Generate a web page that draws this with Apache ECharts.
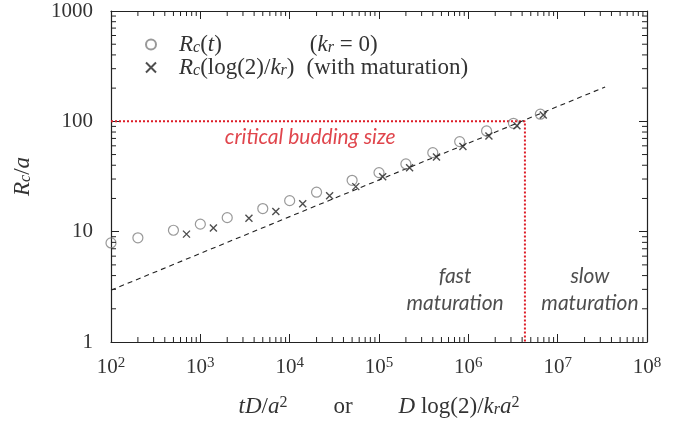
<!DOCTYPE html>
<html>
<head>
<meta charset="utf-8">
<script src="https://cdn.jsdelivr.net/npm/echarts@6/dist/echarts.min.js"></script>
<style>
  html, body { margin: 0; padding: 0; background: #fff; }
  #chart { width: 685px; height: 422px; }
</style>
</head>
<body>
<div id="chart"></div>
<script>
// values
var circleX = [100, 200, 500, 1000, 2000, 5000, 1e4, 2e4, 5e4, 1e5, 2e5, 4e5, 8e5, 1.6e6, 3.2e6, 6.4e6];
var circleY = [7.9, 8.8, 10.3, 11.7, 13.4, 16.2, 19.1, 22.8, 29.2, 34.3, 41.1, 52, 65.5, 81.8, 96, 116];
var crossX = [700, 1400, 3500, 7000, 1.4e4, 2.8e4, 5.5e4, 1.1e5, 2.2e5, 4.4e5, 8.7e5, 1.7e6, 3.5e6, 6.9e6];
var crossY = [9.5, 10.8, 13.2, 15.2, 17.9, 21.2, 25.6, 31.5, 38, 47.5, 59, 73.8, 91.4, 114];
var fitX = [100, 3.4e7];
var fitY = [2.95, 205];
var criticalSize = 100;
var criticalTime = 4.3e6;

var xRange = [1e2, 1e8];
var yRange = [1, 1000];
var xDecades = [1e2, 1e3, 1e4, 1e5, 1e6, 1e7];
var yDecades = [1, 10, 100];
var minorMults = [2, 3, 4, 5, 6, 7, 8, 9];

var serif = '"Liberation Serif", "DejaVu Serif", serif';
var sans = 'Lato, "Open Sans", sans-serif';
var ink = '#222';

function zip(xs, ys) {
  return xs.map(function (x, i) { return [x, ys[i]]; });
}

function minorValues(decades) {
  var out = [];
  decades.forEach(function (d) {
    minorMults.forEach(function (m) { out.push(m * d); });
  });
  return out;
}

// minor ticks of the log frame, drawn as thin rect symbols sitting on each side
function minorTickSeries(side) {
  var vals = (side === 'bottom' || side === 'top') ? minorValues(xDecades) : minorValues(yDecades);
  var data = vals.map(function (v) {
    if (side === 'bottom') return [v, yRange[0]];
    if (side === 'top') return [v, yRange[1]];
    if (side === 'left') return [xRange[0], v];
    return [xRange[1], v];
  });
  var vertical = side === 'bottom' || side === 'top';
  var offset = { bottom: [0, -2.5], top: [0, 2.5], left: [2.5, 0], right: [-2.5, 0] }[side];
  return {
    type: 'scatter',
    silent: true,
    data: data,
    symbol: 'rect',
    symbolSize: vertical ? [1, 5] : [5, 1],
    symbolOffset: offset,
    itemStyle: { color: ink, opacity: 1 },
    z: 8
  };
}

var mathRich = {
  i: { fontFamily: serif, fontStyle: 'italic', fontSize: 23, color: '#333' },
  n: { fontFamily: serif, fontSize: 23, color: '#333' },
  sub: { fontFamily: serif, fontStyle: 'italic', fontSize: 16, color: '#333', verticalAlign: 'bottom', padding: [7, 0, 0, 0] },
  sup: { fontFamily: serif, fontSize: 16, color: '#333', verticalAlign: 'top', padding: [0, 0, 7, 0] },
  g1: { width: 88 },
  g2: { width: 12 },
  sp: { width: 46 }
};

var axisCommon = {
  type: 'log',
  logBase: 10,
  axisLine: { show: true, lineStyle: { color: ink, width: 1.2 } },
  axisTick: { show: true, inside: true, length: 8, lineStyle: { color: ink } },
  splitLine: { show: false },
  minorTick: { show: false }
};

var chart = echarts.init(document.getElementById('chart'));

chart.setOption({
  animation: false,
  backgroundColor: '#fff',
  grid: { left: 111, right: 38, top: 11, bottom: 80, outerBoundsMode: 'none' },
  legend: {
    left: 140,
    top: 28,
    orient: 'vertical',
    itemWidth: 10,
    itemHeight: 10,
    itemGap: 0,
    data: ['circle', 'cross'],
    textStyle: { padding: [0, 0, 0, 18], rich: mathRich, lineHeight: 22 },
    formatter: function (name) {
      if (name === 'circle') {
        return '{i|R}{sub|c}{n|(}{i|t}{n|)}{g1|}{n|(}{i|k}{sub|r}{n| = 0)}';
      }
      return '{i|R}{sub|c}{n|(log(2)/}{i|k}{sub|r}{n|)}{g2|}{n|(with maturation)}';
    }
  },
  xAxis: [
    Object.assign({}, axisCommon, {
      min: xRange[0], max: xRange[1],
      axisLabel: {
        margin: 14,
        formatter: function (v) {
          return '{b|10}{s|' + Math.round(Math.log10(v)) + '}';
        },
        rich: {
          b: { fontFamily: serif, fontSize: 21, color: '#333' },
          s: { fontFamily: serif, fontSize: 15, color: '#333', verticalAlign: 'top', padding: [0, 0, 8, 0] }
        }
      },
      name: '{i|tD}{n|/}{i|a}{sup|2}{sp|}{n|or}{sp|}{i|D}{n| log(2)/}{i|k}{sub|r}{i|a}{sup|2}',
      nameLocation: 'middle',
      nameGap: 53,
      nameTextStyle: { rich: mathRich }
    }),
    Object.assign({}, axisCommon, {
      min: xRange[0], max: xRange[1],
      position: 'top',
      axisLabel: { show: false }
    })
  ],
  yAxis: [
    Object.assign({}, axisCommon, {
      min: yRange[0], max: yRange[1],
      axisLabel: {
        margin: 18, fontFamily: serif, fontSize: 21, color: '#333',
        formatter: function (v) { return String(Math.round(v)); }
      },
      name: '{i|R}{sub|c}{n|/}{i|a}',
      nameLocation: 'middle',
      nameRotate: 90,
      nameGap: 77,
      nameTextStyle: { rich: mathRich }
    }),
    Object.assign({}, axisCommon, {
      min: yRange[0], max: yRange[1],
      position: 'right',
      axisLabel: { show: false }
    })
  ],
  series: [
    minorTickSeries('bottom'),
    minorTickSeries('top'),
    minorTickSeries('left'),
    minorTickSeries('right'),
    {
      name: 'critical',
      type: 'line',
      data: [[xRange[0], criticalSize], [criticalTime, criticalSize], [criticalTime, yRange[0]]],
      symbol: 'none',
      lineStyle: { color: '#dd1c27', width: 2, type: [2, 2] },
      z: 3
    },
    {
      name: 'fit',
      type: 'line',
      data: zip(fitX, fitY),
      symbol: 'none',
      lineStyle: { color: ink, width: 1.1, type: [5, 4] },
      z: 3
    },
    {
      name: 'circle',
      type: 'scatter',
      data: zip(circleX, circleY),
      symbol: 'circle',
      symbolSize: 10,
      itemStyle: { color: 'rgba(0,0,0,0)', borderColor: '#808080', borderWidth: 1.2 },
      z: 4
    },
    {
      name: 'cross',
      type: 'scatter',
      data: zip(crossX, crossY),
      symbol: 'path://M0,0L10,10M10,0L0,10',
      symbolSize: 7,
      itemStyle: { color: 'rgba(0,0,0,0)', borderColor: ink, borderWidth: 1.4 },
      z: 5
    },
    {
      name: 'notes',
      type: 'scatter',
      silent: true,
      symbolSize: 0,
      data: [
        { value: [1.7e4, 72], label: { formatter: 'critical budding size', color: '#d8161f' } },
        { value: [7.1e5, 3.0], label: { formatter: 'fast\nmaturation', color: '#222' } },
        { value: [2.3e7, 3.0], label: { formatter: 'slow\nmaturation', color: '#222' } }
      ],
      label: {
        show: true,
        position: 'inside',
        fontFamily: sans,
        fontStyle: 'italic',
        fontSize: 21,
        lineHeight: 27,
        align: 'center',
        verticalAlign: 'middle'
      },
      z: 6
    }
  ]
});
</script>
</body>
</html>
